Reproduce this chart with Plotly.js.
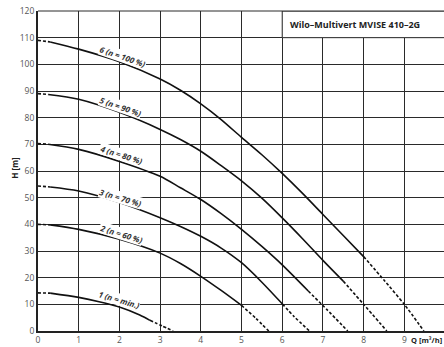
<!DOCTYPE html>
<html>
<head>
<meta charset="utf-8">
<script src="https://cdn.plot.ly/plotly-3.0.1.min.js"></script>
<style>html,body{margin:0;padding:0;background:#fff;}#chart{width:444px;height:347px;}</style>
</head>
<body>
<div id="chart"></div>
<script>
// ---- data (Q in m³/h, H in m) ----
const xTicks = [0, 1, 2, 3, 4, 5, 6, 7, 8, 9];
const yTicks = [0, 10, 20, 30, 40, 50, 60, 70, 80, 90, 100, 110, 120];

// curve 6 (n = 100 %)
const q6a = [0, 0.3];            const h6a = [109, 108.4];
const q6 = [0.3, 1, 2, 3, 3.5, 4, 4.5, 5, 5.5, 6, 6.5, 7, 7.5, 8];
const h6 = [108.4, 105.7, 101.0, 94.5, 90.3, 85.2, 79.3, 72.6, 66.1, 59.1, 51.6, 43.7, 35.8, 27.9];
const q6b = [8, 8.5, 9, 9.48];   const h6b = [27.9, 19.1, 10, 0];

// curve 5 (n = 90 %)
const q5a = [0, 0.25];           const h5a = [89, 88.7];
const q5 = [0.25, 1, 2, 3, 3.5, 4, 4.5, 5, 5.5, 6, 6.5, 7, 7.5];
const h5 = [88.7, 86.9, 82.0, 75.6, 71.8, 67.4, 62.0, 56.3, 49.8, 42.4, 34.6, 26.5, 18.7];
const q5b = [7.5, 8, 8.57];      const h5b = [18.7, 10, 0];

// curve 4 (n = 80 %)
const q4a = [0, 0.25];           const h4a = [70.3, 70.0];
const q4 = [0.25, 1, 2, 3, 3.5, 4, 4.5, 5, 5.5, 6, 6.64];
const h4 = [70.0, 68.1, 63.6, 58.0, 53.7, 49.3, 44.0, 38.1, 31.7, 24.8, 15.0];
const q4b = [6.64, 7.1, 7.61];   const h4b = [15.0, 8.0, 0];

// curve 3 (n = 70 %)
const q3a = [0, 0.3];            const h3a = [54.4, 54.0];
const q3 = [0.3, 1, 2, 3, 3.5, 4, 4.5, 5, 5.5, 6];
const h3 = [54.0, 52.5, 48.2, 42.5, 39.2, 35.5, 31.1, 25.6, 18.3, 10.2];
const q3b = [6, 6.3, 6.67];      const h3b = [10.2, 5.3, 0];

// curve 2 (n = 60 %)
const q2a = [0, 0.3];            const h2a = [40, 39.8];
const q2 = [0.3, 1, 2, 3, 3.5, 4, 4.5, 5];
const h2 = [39.8, 38.1, 34.4, 29.2, 25.3, 20.5, 15.2, 9.6];
const q2b = [5, 5.35, 5.67];     const h2b = [9.6, 4.8, 0];

// curve 1 (n = min.)
const q1a = [0, 0.3];            const h1a = [14.3, 14.2];
const q1 = [0.3, 1, 1.5, 2, 2.5, 2.75];
const h1 = [14.2, 12.6, 11.0, 9.0, 6.0, 4.0];
const q1b = [2.75, 3.05, 3.32];  const h1b = [4.0, 1.9, 0];

const curveLabels = ['1 (n = min.)', '2 (n = 60 %)', '3 (n = 70 %)', '4 (n = 80 %)', '5 (n = 90 %)', '6 (n = 100 %)'];
const chartTitle = 'Wilo–Multivert MVISE 410–2G';
const xTitle = 'Q [m³/h]';
const yTitle = 'H [m]';

// ---- build traces ----
const solidSets = [[q1, h1], [q2, h2], [q3, h3], [q4, h4], [q5, h5], [q6, h6]];
const dashSets = [[q1a, h1a], [q1b, h1b], [q2a, h2a], [q2b, h2b], [q3a, h3a], [q3b, h3b],
                  [q4a, h4a], [q4b, h4b], [q5a, h5a], [q5b, h5b], [q6a, h6a], [q6b, h6b]];

const traces = [];
solidSets.forEach(([x, y]) => traces.push({
  x: x, y: y, type: 'scatter', mode: 'lines', hoverinfo: 'skip', showlegend: false,
  line: {color: '#111', width: 1.6, shape: 'spline', smoothing: 0.8}
}));
dashSets.forEach(([x, y]) => traces.push({
  x: x, y: y, type: 'scatter', mode: 'lines', hoverinfo: 'skip', showlegend: false,
  line: {color: '#111', width: 1.6, dash: '3px,2px', shape: 'spline', smoothing: 0.6}
}));

// label placement (layout only)
const labelPos = [
  {x: 1.99, y: 11.7, a: 16.5},
  {x: 2.03, y: 36.4, a: 17.5},
  {x: 2.03, y: 50.2, a: 16.5},
  {x: 2.04, y: 66.2, a: 17.5},
  {x: 2.03, y: 84.2, a: 19},
  {x: 2.09, y: 103.1, a: 19}
];
const annotations = curveLabels.map((t, i) => ({
  x: labelPos[i].x, y: labelPos[i].y, xref: 'x', yref: 'y', text: '<b><i>' + t + '</i></b>',
  showarrow: false, textangle: labelPos[i].a, xanchor: 'center', yanchor: 'middle',
  font: {family: 'Open Sans', size: 8, color: '#333'}, bgcolor: '#fff', borderpad: 0
}));
annotations.push({
  x: 6.13, y: 115, xref: 'x', yref: 'y', text: '<b>' + chartTitle + '</b>', showarrow: false,
  xanchor: 'left', yanchor: 'middle', font: {family: 'Open Sans', size: 9, color: '#222'}
});
annotations.push({
  x: 1, y: -0.027, xref: 'paper', yref: 'paper', text: '<b>' + xTitle + '</b>', showarrow: false,
  xanchor: 'right', yanchor: 'middle', font: {family: 'Open Sans', size: 7.5, color: '#222'}
});
annotations.push({
  x: -0.057, y: 0.51, xref: 'paper', yref: 'paper', text: '<b>' + yTitle + '</b>', showarrow: false,
  textangle: -90, xanchor: 'center', yanchor: 'middle', font: {family: 'Open Sans', size: 8, color: '#222'}
});

const layout = {
  width: 444, height: 347,
  margin: {l: 38, r: 0, t: 11, b: 16},
  paper_bgcolor: '#fff', plot_bgcolor: '#fff',
  font: {family: 'Open Sans', size: 8.5, color: '#555'},
  xaxis: {
    range: [0, 9.975], tickvals: xTicks, ticktext: xTicks.map(String),
    showgrid: true, gridcolor: '#2a2a2a', gridwidth: 1, zeroline: false,
    showline: true, linecolor: '#222', linewidth: 2, ticks: '',
    tickfont: {family: 'Open Sans', size: 8.5, color: '#555'}, fixedrange: true
  },
  yaxis: {
    range: [0, 120], tickvals: yTicks, ticktext: yTicks.map(String),
    showgrid: true, gridcolor: '#2a2a2a', gridwidth: 1, zeroline: false,
    showline: true, linecolor: '#222', linewidth: 2, ticks: '',
    tickfont: {family: 'Open Sans', size: 8.5, color: '#555'}, fixedrange: true
  },
  shapes: [
    {type: 'rect', xref: 'x', yref: 'y', x0: 6, x1: 10.5, y0: 110, y1: 120,
     fillcolor: '#fff', line: {color: '#2a2a2a', width: 1}, layer: 'above'},
    {type: 'line', xref: 'paper', yref: 'paper', x0: 0, x1: 1, y0: 1, y1: 1,
     line: {color: '#2a2a2a', width: 1}, layer: 'above'}
  ],
  annotations: annotations
};

Plotly.newPlot('chart', traces, layout, {staticPlot: true, displayModeBar: false});
</script>
</body>
</html>
